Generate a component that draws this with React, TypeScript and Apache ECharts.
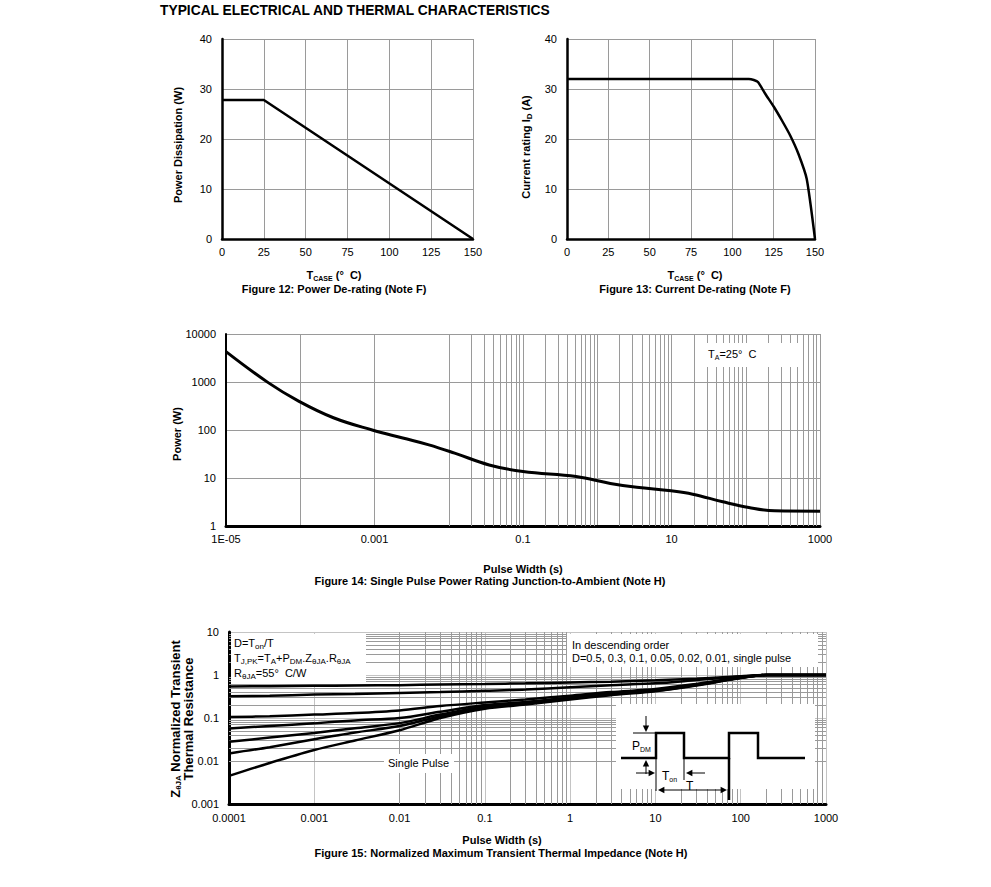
import React, { useEffect, useRef } from 'react';
import * as echarts from 'echarts';

const FONT = '"Liberation Sans", Arial, Helvetica, sans-serif';

// ---------- Figure 12: Power De-rating ----------
const fig12TempC = [0, 25, 150];
const fig12PowerW = [27.8, 27.8, 0];

// ---------- Figure 13: Current De-rating ----------
const fig13TempC = [0, 110, 113, 115.5, 120, 125, 130, 135, 140, 145, 150];
const fig13CurrentA = [32, 32, 31.8, 31.4, 29, 26.5, 23.7, 20.7, 17, 12, 0];

// ---------- Figure 14: Single pulse power rating ----------
const fig14PulseS = [1e-5, 3.7e-5, 9.5e-5, 2.8e-4, 9.3e-4, 2.4e-3, 5.4e-3, 0.012, 0.035, 0.1, 0.52, 1.5, 3.4, 9.9, 19.3, 49, 110, 245, 1000];
const fig14PowerW = [4300, 970, 400, 180, 100, 68, 49, 33, 18.7, 13.6, 10.7, 7.7, 6.4, 5.4, 4.6, 3.2, 2.43, 2.07, 2.04];

// ---------- Figure 15: Normalized transient thermal impedance ----------
const fig15PulseS = [1e-4, 3e-4, 1e-3, 3e-3, 1e-2, 3e-2, 0.1, 0.3, 1, 3, 10, 30, 100, 200, 1000];
const fig15D05 = [0.54, 0.55, 0.56, 0.57, 0.58, 0.6, 0.62, 0.64, 0.67, 0.7, 0.75, 0.82, 0.93, 1.0, 1.0];
const fig15D03 = [0.32, 0.33, 0.35, 0.36, 0.38, 0.4, 0.43, 0.46, 0.52, 0.58, 0.64, 0.76, 0.92, 1.0, 1.0];
const fig15D01 = [0.105, 0.11, 0.12, 0.13, 0.15, 0.19, 0.23, 0.27, 0.33, 0.4, 0.47, 0.62, 0.88, 1.0, 1.0];
const fig15D005 = [0.057, 0.065, 0.075, 0.088, 0.1, 0.14, 0.2, 0.235, 0.3, 0.37, 0.45, 0.6, 0.87, 1.0, 1.0];
const fig15D002 = [0.028, 0.035, 0.045, 0.058, 0.076, 0.12, 0.185, 0.225, 0.29, 0.36, 0.44, 0.59, 0.86, 1.0, 1.0];
const fig15D001 = [0.015, 0.021, 0.032, 0.046, 0.065, 0.11, 0.175, 0.215, 0.28, 0.35, 0.43, 0.58, 0.86, 1.0, 1.0];
const fig15Single = [0.0045, 0.009, 0.018, 0.03, 0.052, 0.1, 0.165, 0.205, 0.27, 0.34, 0.42, 0.57, 0.85, 1.0, 1.0];
const fig15Curves = [fig15D05, fig15D03, fig15D01, fig15D005, fig15D002, fig15D001, fig15Single];
const fig15Names = ['D=0.5', 'D=0.3', 'D=0.1', 'D=0.05', 'D=0.02', 'D=0.01', 'Single Pulse'];

// ---------- tick labels ----------
const fig14XTickValues = [1e-5, 1e-3, 0.1, 10, 1000];
const fig14XTickLabels = ['1E-05', '0.001', '0.1', '10', '1000'];
const fig14YTickValues = [1, 10, 100, 1000, 10000];
const fig14YTickLabels = ['1', '10', '100', '1000', '10000'];
const fig15XTickValues = [1e-4, 1e-3, 1e-2, 0.1, 1, 10, 100, 1000];
const fig15XTickLabels = ['0.0001', '0.001', '0.01', '0.1', '1', '10', '100', '1000'];
const fig15YTickValues = [0.001, 0.01, 0.1, 1, 10];
const fig15YTickLabels = ['0.001', '0.01', '0.1', '1', '10'];

const zip = (xs: number[], ys: number[]) => xs.map((x, i) => [x, ys[i]]);

const labelFor = (vals: number[], labels: string[]) => (v: number) => {
  for (let i = 0; i < vals.length; i++) {
    if (Math.abs(Math.log10(v) - Math.log10(vals[i])) < 0.01) return labels[i];
  }
  return '';
};

// minor log gridline positions (2..9 of each decade)
const minorLog = (e0: number, e1: number) => {
  const out: number[] = [];
  for (let e = e0; e < e1; e++) for (let k = 2; k <= 9; k++) out.push(k * Math.pow(10, e));
  return out;
};

const GRID_GRAY = '#9a9a9a';
const labelStyle = { color: '#000', fontSize: 11, fontFamily: FONT };

const T = (x: number, y: number, text: string, o: any = {}) => ({
  type: 'text',
  x,
  y,
  z: 20,
  rotation: o.rotation || 0,
  style: {
    text,
    fill: '#000',
    fontFamily: FONT,
    fontSize: o.size || 11,
    fontWeight: o.bold ? 'bold' : 'normal',
    align: o.align || 'left',
    verticalAlign: 'middle',
    lineHeight: o.lineHeight,
    rich: {
      s: {
        fontSize: o.sub || 8,
        padding: [6, 0, 0, 0],
        fontWeight: o.bold ? 'bold' : 'normal',
        fontFamily: FONT,
      },
    },
  },
});

const whiteRect = (x: number, y: number, w: number, h: number) => ({
  type: 'rect',
  z: 15,
  shape: { x, y, width: w, height: h },
  style: { fill: '#fff' },
});

const thin = (pts: number[][], w = 1) => ({
  type: 'polyline',
  z: 18,
  shape: { points: pts },
  style: { stroke: '#000', lineWidth: w, fill: null },
});

const head = (x: number, y: number, dir: 'l' | 'r' | 'u' | 'd') => {
  const s = 4;
  let pts: number[][] = [];
  if (dir === 'r') pts = [[x, y], [x - s * 1.6, y - s * 0.8], [x - s * 1.6, y + s * 0.8]];
  if (dir === 'l') pts = [[x, y], [x + s * 1.6, y - s * 0.8], [x + s * 1.6, y + s * 0.8]];
  if (dir === 'd') pts = [[x, y], [x - s * 0.8, y - s * 1.6], [x + s * 0.8, y - s * 1.6]];
  if (dir === 'u') pts = [[x, y], [x - s * 0.8, y + s * 1.6], [x + s * 0.8, y + s * 1.6]];
  return { type: 'polygon', z: 18, shape: { points: pts }, style: { fill: '#000' } };
};

const minorSeries = (xi: number, xs: number[], ys: number[]) => ({
  type: 'line',
  xAxisIndex: xi,
  yAxisIndex: xi,
  data: [],
  silent: true,
  z: 1,
  markLine: {
    silent: true,
    z: 1,
    symbol: ['none', 'none'],
    label: { show: false },
    emphasis: { disabled: true },
    lineStyle: { color: GRID_GRAY, width: 1, type: 'solid' },
    data: [...xs.map((v) => ({ xAxis: v })), ...ys.map((v) => ({ yAxis: v }))],
  },
});

export default function App() {
  const ref = useRef<HTMLDivElement>(null);

  useEffect(() => {
    if (!ref.current) return;
    const chart = echarts.init(ref.current, undefined, { renderer: 'svg' });

    const linX = (gi: number) => ({
      type: 'value',
      gridIndex: gi,
      min: 0,
      max: 150,
      interval: 25,
      axisLine: { show: true, onZero: false, lineStyle: { color: '#000', width: 2.5 } },
      axisTick: { show: false },
      axisLabel: { ...labelStyle, margin: 7 },
      splitLine: { show: true, lineStyle: { color: GRID_GRAY, width: 1 } },
    });
    const linY = (gi: number) => ({
      type: 'value',
      gridIndex: gi,
      min: 0,
      max: 40,
      interval: 10,
      axisLine: { show: true, lineStyle: { color: '#000', width: 2.5 } },
      axisTick: { show: false },
      axisLabel: { ...labelStyle, margin: 10 },
      splitLine: { show: true, lineStyle: { color: GRID_GRAY, width: 1 } },
    });

    const option: any = {
      animation: false,
      backgroundColor: '#fff',
      grid: [
        { left: 222, top: 39, width: 251, height: 200 },
        { left: 567, top: 39, width: 248, height: 200 },
        { left: 226, top: 334, width: 594, height: 192 },
        { left: 229, top: 632, width: 597, height: 172 },
      ],
      xAxis: [
        linX(0),
        linX(1),
        {
          type: 'log',
          logBase: 10,
          gridIndex: 2,
          min: 1e-5,
          max: 1000,
          axisLine: { show: true, lineStyle: { color: '#000', width: 3 } },
          axisTick: { show: false },
          axisLabel: { ...labelStyle, margin: 7, formatter: labelFor(fig14XTickValues, fig14XTickLabels) },
          splitLine: { show: true, lineStyle: { color: GRID_GRAY, width: 1 } },
        },
        {
          type: 'log',
          logBase: 10,
          gridIndex: 3,
          min: 1e-4,
          max: 1000,
          axisLine: { show: true, lineStyle: { color: '#000', width: 3 } },
          axisTick: { show: false },
          axisLabel: { ...labelStyle, margin: 8, formatter: labelFor(fig15XTickValues, fig15XTickLabels) },
          splitLine: { show: true, lineStyle: { color: '#c4c4c4', width: 1 } },
        },
      ],
      yAxis: [
        linY(0),
        linY(1),
        {
          type: 'log',
          logBase: 10,
          gridIndex: 2,
          min: 1,
          max: 10000,
          axisLine: { show: true, lineStyle: { color: '#000', width: 2 } },
          axisTick: { show: false },
          axisLabel: { ...labelStyle, margin: 10, formatter: labelFor(fig14YTickValues, fig14YTickLabels) },
          splitLine: { show: true, lineStyle: { color: GRID_GRAY, width: 1 } },
        },
        {
          type: 'log',
          logBase: 10,
          gridIndex: 3,
          min: 0.001,
          max: 10,
          axisLine: { show: true, lineStyle: { color: '#000', width: 3 } },
          axisTick: { show: false },
          axisLabel: { ...labelStyle, margin: 10, formatter: labelFor(fig15YTickValues, fig15YTickLabels) },
          splitLine: { show: true, lineStyle: { color: '#c4c4c4', width: 1 } },
        },
      ],
      series: [
        minorSeries(2, minorLog(-5, 3), []),
        minorSeries(3, minorLog(-4, 3), minorLog(-3, 1)),
        {
          name: 'Power Dissipation',
          type: 'line',
          xAxisIndex: 0,
          yAxisIndex: 0,
          data: zip(fig12TempC, fig12PowerW),
          symbol: 'none',
          z: 5,
          lineStyle: { color: '#000', width: 2.5 },
        },
        {
          name: 'Current rating',
          type: 'line',
          xAxisIndex: 1,
          yAxisIndex: 1,
          data: zip(fig13TempC, fig13CurrentA),
          symbol: 'none',
          smooth: 0.2,
          z: 5,
          lineStyle: { color: '#000', width: 2.5 },
        },
        {
          name: 'Single pulse power',
          type: 'line',
          xAxisIndex: 2,
          yAxisIndex: 2,
          data: zip(fig14PulseS, fig14PowerW),
          symbol: 'none',
          smooth: 0.4,
          z: 5,
          lineStyle: { color: '#000', width: 3 },
        },
        ...fig15Curves.map((c, i) => ({
          name: fig15Names[i],
          type: 'line',
          xAxisIndex: 3,
          yAxisIndex: 3,
          data: zip(fig15PulseS, c),
          symbol: 'none',
          smooth: 0.3,
          z: 5,
          lineStyle: { color: '#000', width: 2.5 },
        })),
      ],
      graphic: [
        T(160, 10, 'TYPICAL ELECTRICAL AND THERMAL CHARACTERISTICS', { bold: true, size: 13.8 }),
        // Figure 12 labels
        T(178, 145, 'Power Dissipation (W)', { bold: true, size: 11, align: 'center', rotation: Math.PI / 2 }),
        T(334, 275, 'T{s|CASE} (°  C)', { bold: true, size: 11, sub: 7, align: 'center' }),
        T(334, 289, 'Figure 12: Power De-rating (Note F)', { bold: true, size: 11, align: 'center' }),
        // Figure 13 labels
        T(526, 147, 'Current rating I{s|D} (A)', { bold: true, size: 11, align: 'center', rotation: Math.PI / 2 }),
        T(695, 275, 'T{s|CASE} (°  C)', { bold: true, size: 11, sub: 7, align: 'center' }),
        T(695, 289, 'Figure 13: Current De-rating (Note F)', { bold: true, size: 11, align: 'center' }),
        // Figure 14 labels
        whiteRect(697, 343, 103, 24),
        T(708, 354, 'T{s|A}=25°  C', { size: 11, sub: 7 }),
        T(177, 434, 'Power (W)', { bold: true, size: 11, align: 'center', rotation: Math.PI / 2 }),
        T(523, 569, 'Pulse Width (s)', { bold: true, size: 11, align: 'center' }),
        T(490, 581, 'Figure 14: Single Pulse Power Rating Junction-to-Ambient (Note H)', { bold: true, size: 11, align: 'center' }),
        // Figure 15 labels
        T(182, 719, 'Z{s|θJA} Normalized Transient\nThermal Resistance', { bold: true, size: 13, sub: 8, lineHeight: 13, align: 'center', rotation: Math.PI / 2 }),
        T(502, 840, 'Pulse Width (s)', { bold: true, size: 11, align: 'center' }),
        T(501, 853, 'Figure 15: Normalized Maximum Transient Thermal Impedance (Note H)', { bold: true, size: 11, align: 'center' }),
        whiteRect(231, 634, 135, 50),
        T(234, 643, 'D=T{s|on}/T', { size: 11 }),
        T(234, 658, 'T{s|J,PK}=T{s|A}+P{s|DM}.Z{s|θJA}.R{s|θJA}', { size: 11 }),
        T(234, 673, 'R{s|θJA}=55°  C/W', { size: 11 }),
        whiteRect(567, 634, 251, 33),
        T(572, 645, 'In descending order', { size: 11 }),
        T(572, 658, 'D=0.5, 0.3, 0.1, 0.05, 0.02, 0.01, single pulse', { size: 11 }),
        whiteRect(384, 754, 70, 19),
        T(388, 763, 'Single Pulse', { size: 11 }),
        // inset
        whiteRect(616, 704, 199, 85),
        thin([[621, 758], [656, 758], [656, 733], [684, 733], [684, 758], [729, 758], [729, 733], [758, 733], [758, 758], [805, 758]], 2.5),
        thin([[729, 758], [729, 800]], 2.5),
        thin([[656, 758], [656, 791]], 1),
        thin([[684, 758], [684, 780]], 1),
        thin([[633, 733], [656, 733]], 1),
        thin([[646, 716], [646, 728]], 1),
        head(646, 732, 'd'),
        thin([[646, 774], [646, 764]], 1),
        head(646, 760, 'u'),
        thin([[636, 773], [651, 773]], 1),
        head(655, 773, 'r'),
        thin([[705, 773], [690, 773]], 1),
        head(686, 773, 'l'),
        thin([[662, 790], [723, 790]], 1),
        head(658, 790, 'l'),
        head(727, 790, 'r'),
        T(632, 746, 'P{s|DM}', { size: 12, sub: 7 }),
        T(662, 776, 'T{s|on}', { size: 12, sub: 7 }),
        T(686, 786, 'T', { size: 12 }),
      ],
    };

    chart.setOption(option);
    return () => chart.dispose();
  }, []);

  return (
    <div
      ref={ref}
      style={{ position: 'absolute', left: 0, top: 0, width: 991, height: 887, background: '#fff' }}
    />
  );
}
